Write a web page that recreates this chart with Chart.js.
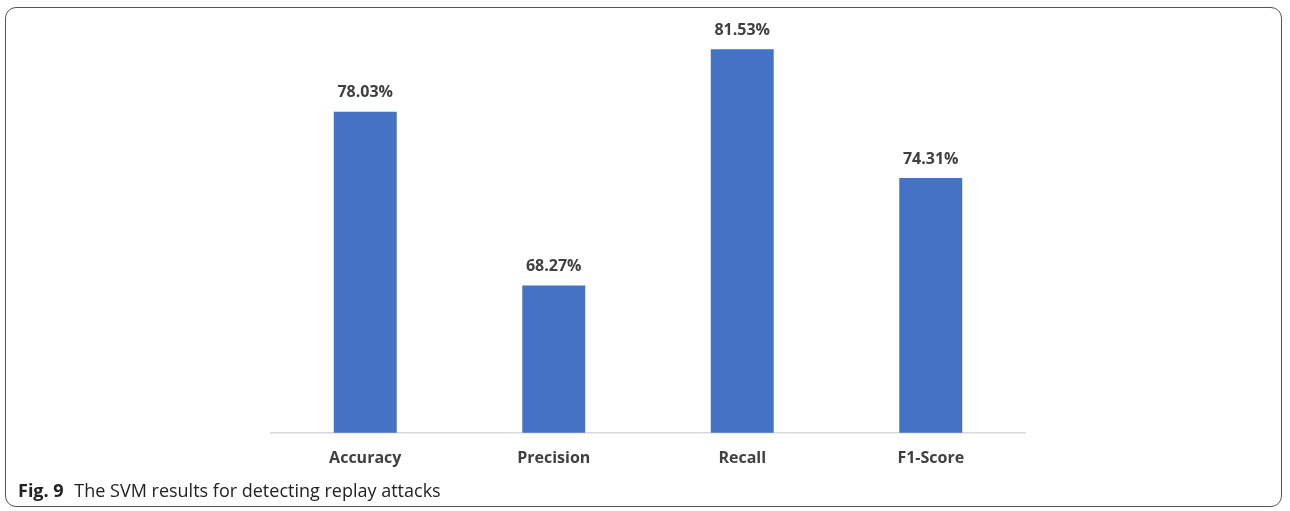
<!DOCTYPE html>
<html>
<head>
<meta charset="utf-8">
<script src="https://cdn.jsdelivr.net/npm/chart.js@4/dist/chart.umd.min.js"></script>
<style>
  html, body { margin: 0; padding: 0; background: #fff; }
  #wrap { position: relative; width: 1290px; height: 511px; overflow: hidden; }
  #frame {
    position: absolute; left: 5px; top: 7px; width: 1277px; height: 500px;
    border: 1.5px solid #555; border-radius: 11px; box-sizing: border-box;
  }
  #chart { position: absolute; left: 0; top: 0; }
  #caption {
    position: absolute; left: 18px; top: 478px;
    font-family: "Open Sans", "Noto Sans", sans-serif; font-size: 18px; color: #222;
  }
  #caption b { margin-right: 6px; }
</style>
</head>
<body>
<div id="wrap">
  <div id="frame"></div>
  <canvas id="chart" width="1290" height="511"></canvas>
  <div id="caption"><b>Fig. 9</b> The SVM results for detecting replay attacks</div>
</div>
<script>
'use strict';
const labels = ['Accuracy', 'Precision', 'Recall', 'F1-Score'];
const scores = [78.03, 68.27, 81.53, 74.31];
const LABEL_FONT = 'bold 16px "Open Sans", "Noto Sans", sans-serif';

// value labels above each bar
const valueLabels = {
  id: 'valueLabels',
  afterDatasetsDraw(chart) {
    const ctx = chart.ctx;
    const meta = chart.getDatasetMeta(0);
    ctx.save();
    ctx.font = LABEL_FONT;
    ctx.fillStyle = '#404040';
    ctx.textAlign = 'center';
    ctx.textBaseline = 'middle';
    meta.data.forEach((bar, i) => {
      ctx.fillText(scores[i].toFixed(2) + '%', bar.x, bar.y - 19);
    });
    ctx.restore();
  }
};

new Chart(document.getElementById('chart'), {
  type: 'bar',
  data: {
    labels: labels,
    datasets: [{
      data: scores,
      backgroundColor: '#4472C4',
      barPercentage: 0.334,
      categoryPercentage: 1
    }]
  },
  options: {
    responsive: false,
    animation: false,
    layout: { padding: { left: 271, right: 265, top: 41, bottom: 27 } },
    plugins: { legend: { display: false }, tooltip: { enabled: false } },
    scales: {
      x: {
        grid: { display: false, drawTicks: false },
        border: { display: true, color: '#d9d9d9', width: 1.5 },
        ticks: {
          padding: 16,
          color: '#404040',
          font: { family: '"Open Sans", "Noto Sans", sans-serif', size: 16, weight: 'bold' }
        }
      },
      y: {
        display: false,
        min: 60,
        max: 82
      }
    }
  },
  plugins: [valueLabels]
});
</script>
</body>
</html>
